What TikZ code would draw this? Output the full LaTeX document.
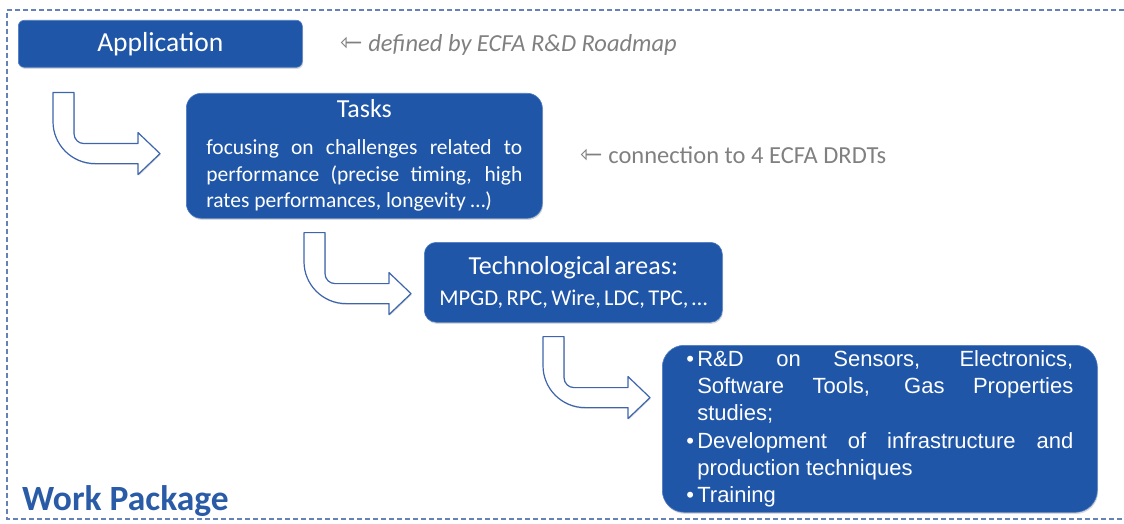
\documentclass[tikz,border=0pt]{standalone}
\usepackage{fontspec}
\setmainfont{Carlito}
\newfontfamily\arialfont{Liberation Sans}
\newfontfamily\arrowfont{DejaVu Sans}
\usetikzlibrary{calc,shadows}

\definecolor{boxblue}{HTML}{1F56A8}
\definecolor{boxedge}{HTML}{4F7BC0}
\definecolor{arrowblue}{HTML}{3D65AE}
\definecolor{framecol}{HTML}{6482B8}
\definecolor{notegray}{HTML}{808080}
\definecolor{wpblue}{HTML}{2A5BA7}

\hyphenpenalty=10000
\newcommand{\titlesize}{\fontsize{26}{30}\selectfont}
\newcommand{\bodysize}{\fontsize{21.5}{26.5}\selectfont}
\newcommand{\wpitem}{\hangindent=11pt\hangafter=1\noindent\makebox[11pt][l]{•}}

\tikzset{
  wpbox/.style={draw=boxedge,fill=boxblue,text=white,line width=0.6pt,anchor=north west,
    drop shadow={shadow xshift=0.8pt,shadow yshift=-1.6pt,opacity=0.3}},
  wpframe/.style={draw=framecol,line width=1.5pt,dash pattern=on 5pt off 3pt},
  note/.style={text=notegray,inner sep=0pt,anchor=base west,font=\fontsize{24.5}{29}\selectfont},
  arrowline/.style={draw=arrowblue,fill=white,line width=1.2pt,line join=round,
    drop shadow={shadow xshift=0.8pt,shadow yshift=-1.2pt,opacity=0.3}},
  bend arrow/.pic={
    \path[arrowline] (0,0) -- (21,0) -- (21,-41) arc(180:270:10pt) -- (85,-51) -- (85,-40)
      -- (107,-61) -- (85,-82) -- (85,-71) -- (42,-71) arc(270:180:42pt) -- cycle;
  }
}

\begin{document}
\begin{tikzpicture}[x=1pt,y=1pt]
    \useasboundingbox (0,0) rectangle (1124,-524);
    \draw[wpframe] (1124,-10) -- (7,-10) -- (7,-519) -- (1124,-519);

    \node[wpbox,rounded corners=6pt,minimum width=284pt,minimum height=47pt,
      font=\fontsize{27.5}{32}\selectfont](app)at(18,-20){\raisebox{-2pt}{Application}};
    \node[wpbox,rounded corners=15pt,minimum width=356pt,minimum height=125pt,
      text width=316pt,inner xsep=20pt,align=justify](tasks)at(186,-93)
      {\centerline{\titlesize Tasks}\par\vspace{10.5pt}\bodysize focusing on challenges related to performance (precise timing, high rates performances, longevity …)\par};
    \node[wpbox,rounded corners=12pt,minimum width=298pt,minimum height=80pt,
      text width=280pt,inner xsep=9pt,align=center](tech)at(424,-242)
      {{\titlesize Technological areas:\par}{\fontsize{22.5}{31}\selectfont MPGD, RPC, Wire, LDC, TPC, …\par}};
    \node[wpbox,rounded corners=22pt,minimum width=435pt,minimum height=167pt,
      text width=387pt,inner xsep=24pt,align=justify,
      font=\arialfont\fontsize{22}{27.2}\selectfont](rnd)at(662,-345)
      {\spaceskip=\fontdimen2\font plus 60pt\relax
       \wpitem R\&D on Sensors, Electronics,\linebreak Software Tools, Gas Properties\linebreak studies;\par
       \wpitem Development of infrastructure and production techniques\par
       \wpitem Training\par};

    \pic at ($(app.south west)+(35,-25)$) {bend arrow};
    \pic at ($(tasks.south west)+(118,-14)$) {bend arrow};
    \pic at ($(tech.south west)+(119,-14)$) {bend arrow};

    \node[note](roadmap)at(340,-52){{\arrowfont\fontsize{27}{30}\selectfont ⇽} \textit{defined by ECFA R\&D Roadmap}};
    \node[note](drdt)at(580,-164){{\arrowfont\fontsize{27}{30}\selectfont ⇽} connection to 4 ECFA DRDTs};
    \node[anchor=base west,inner sep=0pt,text=wpblue,font=\bfseries\fontsize{35.5}{40}\selectfont](wp)at(22,-510){Work Package};
\end{tikzpicture}
\end{document}
